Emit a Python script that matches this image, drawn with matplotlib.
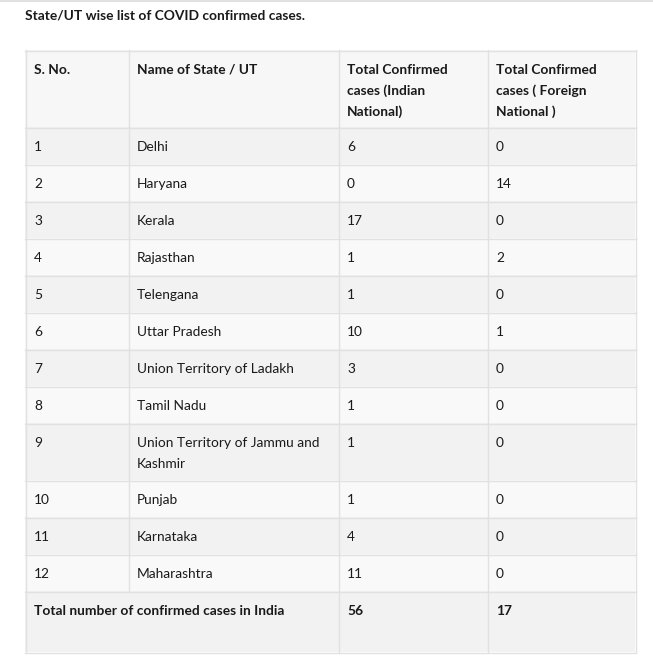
import textwrap
import matplotlib
matplotlib.use("Agg")
import matplotlib.pyplot as plt
from matplotlib.patches import Rectangle

# ---- data ----
title = "State/UT wise list of COVID confirmed cases."
headers = ["S. No.", "Name of State / UT",
           "Total Confirmed\ncases (Indian\nNational)",
           "Total Confirmed\ncases ( Foreign\nNational )"]
sno = [1, 2, 3, 4, 5, 6, 7, 8, 9, 10, 11, 12]
states = ["Delhi", "Haryana", "Kerala", "Rajasthan", "Telengana", "Uttar Pradesh",
          "Union Territory of Ladakh", "Tamil Nadu",
          "Union Territory of Jammu and Kashmir", "Punjab", "Karnataka", "Maharashtra"]
indian = [6, 0, 17, 1, 1, 10, 3, 1, 1, 1, 4, 11]
foreign = [0, 14, 0, 2, 0, 1, 0, 0, 0, 0, 0, 0]
total_label = "Total number of confirmed cases in India"

# ---- layout ----
W, H = 653, 656
col_x = [25, 128, 338, 487, 635]
top = 50
base_h = 37
extra_h = 20
line_h = 20.7
pad_x = 9
first_line = 19.8
text_color = "#1a1a1a"
grid_color = "#e1e1e1"
dark_bg = "#f2f2f2"
light_bg = "#f9f9f9"
head_bg = "#f7f7f7"
FONT = "Lato"
FS = 9.95

fig = plt.figure(figsize=(W / 100, H / 100), dpi=100)
ax = fig.add_axes([0, 0, 1, 1])
ax.set_xlim(0, W)
ax.set_ylim(H, 0)
ax.axis("off")

# top rule
ax.plot([0, W], [0.5, 0.5], color="#dcdcdc", lw=1.2, solid_capstyle="butt")

ax.text(25, 16, title, fontsize=FS, fontweight="bold", family=FONT,
        color=text_color, va="center", ha="left")


def draw_lines(x, y, text, bold=False):
    for i, ln in enumerate(text.split("\n")):
        ax.text(x, y + first_line + i * line_h, ln, fontsize=FS, family=FONT,
                fontweight="bold" if bold else "normal", color=text_color,
                va="center", ha="left")


rows = []
rows.append(("header", headers))
for s, n, a, b in zip(sno, states, indian, foreign):
    rows.append(("body", [str(s), textwrap.fill(n, 30), str(a), str(b)]))
rows.append(("total", [total_label, str(sum(indian)), str(sum(foreign))]))

LW = 1.0
y = top
for idx, (kind, cells) in enumerate(rows):
    nlines = max(c.count("\n") + 1 for c in cells)
    h = base_h + (nlines - 1) * extra_h
    if kind == "total":
        h = 61
    if kind == "header":
        bg = head_bg
    else:
        bg = dark_bg if idx % 2 == 1 else light_bg
    ax.add_patch(Rectangle((col_x[0], y), col_x[-1] - col_x[0], h,
                           facecolor=bg, edgecolor="none", zorder=0))
    if kind == "total":
        spans = [(0, 2), (2, 3), (3, 4)]
    else:
        spans = [(0, 1), (1, 2), (2, 3), (3, 4)]
    for (c0, c1), txt in zip(spans, cells):
        draw_lines(col_x[c0] + pad_x, y, txt, bold=(kind != "body"))
    for c0, c1 in spans:
        ax.plot([col_x[c0] + 0.5] * 2, [y, y + h], color=grid_color, lw=LW, zorder=1)
    ax.plot([col_x[-1] + 0.5] * 2, [y, y + h], color=grid_color, lw=LW, zorder=1)
    ax.plot([col_x[0], col_x[-1] + 1], [y + 0.5, y + 0.5], color=grid_color, lw=LW, zorder=1)
    y += h
ax.plot([col_x[0], col_x[-1] + 1], [y + 0.5, y + 0.5], color=grid_color, lw=LW, zorder=1)

fig.savefig("out.png", dpi=100, facecolor="white")
